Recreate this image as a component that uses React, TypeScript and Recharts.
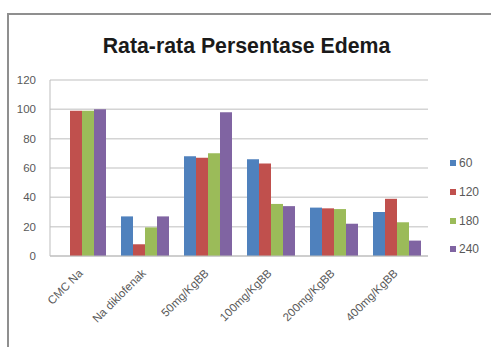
import React from "react";
import { Bar, BarChart, CartesianGrid, XAxis, YAxis } from "recharts";

const categories = ["CMC Na", "Na diklofenak", "50mg/KgBB", "100mg/KgBB", "200mg/KgBB", "400mg/KgBB"];
const series = ["60", "120", "180", "240"];
const colors = ["#4F81BD", "#C0504D", "#9BBB59", "#8064A2"];
const values60 = [0, 27, 68, 66, 33, 30];
const values120 = [99, 8, 67, 63, 32.5, 39];
const values180 = [99, 19.5, 70, 35.5, 32, 23];
const values240 = [100, 27, 98, 34, 22, 10.5];
const yTicks = [0, 20, 40, 60, 80, 100, 120];

const allValues = [values60, values120, values180, values240];
const data = categories.map((name, i) => {
  const row: Record<string, string | number> = { name };
  series.forEach((s, k) => {
    row[s] = allValues[k][i];
  });
  return row;
});

const AngledTick = (props: any) => {
  const { x, y, payload } = props;
  return (
    <g transform={`translate(${x + 2},${y + 10})`}>
      <text textAnchor="end" transform="rotate(-45)" fontSize={11.5} fill="#595959" fontFamily="Liberation Sans, Arial, sans-serif">
        {payload.value}
      </text>
    </g>
  );
};

const App = () => {
  return (
    <div style={{ position: "absolute", left: 0, top: 0, width: 491, height: 347, background: "#fff", overflow: "hidden" }}>
      {/* chart frame */}
      <div style={{ position: "absolute", left: 7, top: 13, width: 500, height: 360, borderTop: "2px solid #8f8f8f", borderLeft: "2px solid #8f8f8f" }} />
      <div
        style={{
          position: "absolute",
          left: 0,
          top: 34,
          width: 491,
          textAlign: "center",
          fontFamily: "Liberation Sans, Arial, sans-serif",
          fontWeight: "bold",
          fontSize: 21.3,
          color: "#1a1a1a",
        }}
      >
        <span style={{ position: "relative", left: 1 }}>Rata-rata Persentase Edema</span>
      </div>

      <div style={{ position: "absolute", left: 0, top: 0 }}>
        <BarChart width={491} height={347} data={data} margin={{ top: 80, right: 63, bottom: 31, left: 0 }} barGap={0} barCategoryGap={8}>
          <CartesianGrid vertical={false} stroke="#d4d4d4" strokeWidth={1.5} />
          <XAxis dataKey="name" height={60} tickLine={false} axisLine={{ stroke: "#bdbdbd" }} tick={<AngledTick />} interval={0} />
          <YAxis
            width={50}
            domain={[0, 120]}
            ticks={yTicks}
            tickLine={false}
            axisLine={{ stroke: "#bdbdbd" }}
            tick={{ fontSize: 11.5, fill: "#595959", fontFamily: "Liberation Sans, Arial, sans-serif" }}
            tickMargin={8}
          />
          {series.map((s, k) => (
            <Bar key={s} dataKey={s} fill={colors[k]} isAnimationActive={false} />
          ))}
        </BarChart>
      </div>

      {/* legend */}
      <div style={{ position: "absolute", left: 450, top: 149, fontFamily: "Liberation Sans, Arial, sans-serif", fontSize: 12, color: "#595959" }}>
        {series.map((s, k) => (
          <div key={s} style={{ display: "flex", alignItems: "center", height: 28.7 }}>
            <span style={{ display: "inline-block", width: 6, height: 6, background: colors[k], marginRight: 3 }} />
            {s}
          </div>
        ))}
      </div>
    </div>
  );
};

export default App;
